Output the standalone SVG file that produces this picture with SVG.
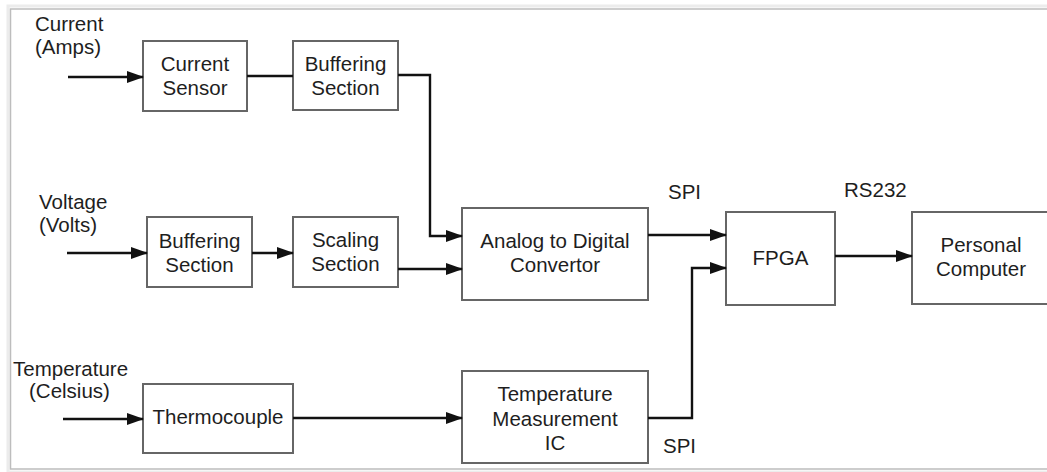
<svg xmlns="http://www.w3.org/2000/svg" width="1047" height="472" viewBox="0 0 1047 472">
  <defs>
    <style>
      .box { fill: #ffffff; stroke: #666666; stroke-width: 2; }
      .wire { fill: none; stroke: #111111; stroke-width: 2.4; }
      text { font-family: "Liberation Sans", Arial, sans-serif; font-size: 20.5px; fill: #1e1e1e; }
      .c { text-anchor: middle; }
    </style>
    <marker id="arr" markerUnits="userSpaceOnUse" markerWidth="17" markerHeight="12" refX="16" refY="6" orient="auto">
      <path d="M0,0 L17,6 L0,12 z" fill="#111111"/>
    </marker>
  </defs>
  <rect x="0" y="0" width="1047" height="472" fill="#ffffff"/>
  <!-- frame -->
  <g id="frame">
    <rect x="8" y="6" width="1100" height="466" fill="none" stroke="#ececec" stroke-width="3"/>
    <rect x="10.5" y="9" width="1100" height="460" fill="none" stroke="#bdbdbd" stroke-width="1.5"/>
  </g>

  <!-- input labels -->
  <g id="label-current">
    <text x="35" y="31">Current</text>
    <text x="35" y="54">(Amps)</text>
  </g>
  <g id="label-voltage">
    <text x="39" y="209">Voltage</text>
    <text x="39" y="232">(Volts)</text>
  </g>
  <g id="label-temperature">
    <text x="13" y="376">Temperature</text>
    <text x="29" y="398">(Celsius)</text>
  </g>
  <g id="label-spi-top"><text x="668" y="199">SPI</text></g>
  <g id="label-rs232"><text x="844" y="197">RS232</text></g>
  <g id="label-spi-bottom"><text x="663" y="453">SPI</text></g>

  <!-- nodes -->
  <g id="current-sensor">
    <rect class="box" x="143" y="41" width="104" height="70"/>
    <text class="c" x="195" y="71">Current</text>
    <text class="c" x="195" y="95">Sensor</text>
  </g>
  <g id="buffering-current">
    <rect class="box" x="293" y="41" width="105" height="69"/>
    <text class="c" x="345.5" y="71">Buffering</text>
    <text class="c" x="345.5" y="95">Section</text>
  </g>
  <g id="buffering-voltage">
    <rect class="box" x="147" y="217" width="105" height="70"/>
    <text class="c" x="199.5" y="248">Buffering</text>
    <text class="c" x="199.5" y="272">Section</text>
  </g>
  <g id="scaling">
    <rect class="box" x="293" y="217" width="105" height="70"/>
    <text class="c" x="345.5" y="247">Scaling</text>
    <text class="c" x="345.5" y="271">Section</text>
  </g>
  <g id="adc">
    <rect class="box" x="462" y="208" width="186" height="92"/>
    <text class="c" x="555" y="248">Analog to Digital</text>
    <text class="c" x="555" y="272">Convertor</text>
  </g>
  <g id="fpga">
    <rect class="box" x="726" y="212" width="109" height="93"/>
    <text class="c" x="780.5" y="265">FPGA</text>
  </g>
  <g id="pc">
    <rect class="box" x="912" y="212" width="140" height="92"/>
    <text class="c" x="981" y="252">Personal</text>
    <text class="c" x="981" y="276">Computer</text>
  </g>
  <g id="thermocouple">
    <rect class="box" x="143" y="384" width="150" height="69"/>
    <text class="c" x="218" y="424">Thermocouple</text>
  </g>
  <g id="temp-ic">
    <rect class="box" x="462" y="371" width="186" height="92"/>
    <text class="c" x="555" y="401">Temperature</text>
    <text class="c" x="555" y="426">Measurement</text>
    <text class="c" x="555" y="450">IC</text>
  </g>

  <!-- connectors -->
  <g id="connectors">
    <path class="wire" d="M68,77 H143" marker-end="url(#arr)"/>
    <path class="wire" d="M247,76 H293"/>
    <path class="wire" d="M398,75 H430 V236 H462" marker-end="url(#arr)"/>
    <path class="wire" d="M67,253 H147" marker-end="url(#arr)"/>
    <path class="wire" d="M252,253 H293" marker-end="url(#arr)"/>
    <path class="wire" d="M398,269 H462" marker-end="url(#arr)"/>
    <path class="wire" d="M648,235 H726" marker-end="url(#arr)"/>
    <path class="wire" d="M835,256 H912" marker-end="url(#arr)"/>
    <path class="wire" d="M63,419 H143" marker-end="url(#arr)"/>
    <path class="wire" d="M293,418 H462" marker-end="url(#arr)"/>
    <path class="wire" d="M648,418 H692 V268 H726" marker-end="url(#arr)"/>
  </g>
</svg>
